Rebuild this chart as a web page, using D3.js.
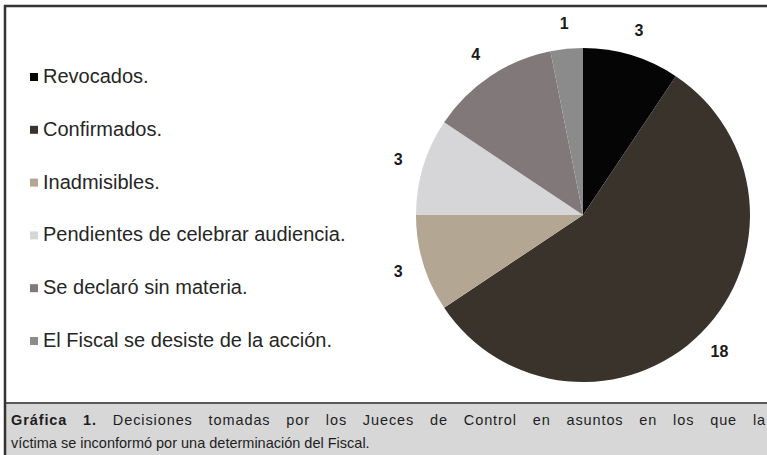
<!DOCTYPE html>
<html><head><meta charset="utf-8">
<script src="https://cdn.jsdelivr.net/npm/d3@7"></script>
<style>html,body{margin:0;padding:0;background:#fff;}svg{display:block;}</style>
</head><body>
<svg id="chart" width="767" height="455"></svg>
<script>
const categories = ["Revocados.", "Confirmados.", "Inadmisibles.", "Pendientes de celebrar audiencia.", "Se declaró sin materia.", "El Fiscal se desiste de la acción."];
const values = [3, 18, 3, 3, 4, 1];
const colors = ["#050505", "#3a332c", "#b3a692", "#d6d6d9", "#817979", "#8b8b8b"];
const captionBold = "Gráfica 1.";
const captionLine1 = "Decisiones tomadas por los Jueces de Control en asuntos en los que la";
const captionLine2 = "víctima se inconformó por una determinación del Fiscal.";

const svg = d3.select("#chart");
const W = 767, H = 455;
const font = "'Liberation Sans', Arial, sans-serif";

// caption band
svg.append("rect").attr("x", 5).attr("y", 403).attr("width", W).attr("height", H - 403).attr("fill", "#d7d7d7");
svg.append("line").attr("x1", 5).attr("x2", W).attr("y1", 403).attr("y2", 403).attr("stroke", "#5a5a5a").attr("stroke-width", 2);

// frame
svg.append("path").attr("d", `M5,${H} L5,6 L${W},6`).attr("fill", "none").attr("stroke", "#333").attr("stroke-width", 2.5);

// pie
const cx = 583, cy = 215, r = 167;
const pie = d3.pie().sort(null).value(d => d)(values);
const arc = d3.arc().innerRadius(0).outerRadius(r);
const labelArc = d3.arc().innerRadius(193).outerRadius(193);
const g = svg.append("g").attr("transform", `translate(${cx},${cy})`);
g.selectAll("path.slice").data(pie).enter().append("path")
  .attr("class", "slice").attr("d", arc).attr("fill", (d, i) => colors[i]);
g.selectAll("text.lbl").data(pie).enter().append("text")
  .attr("class", "lbl")
  .attr("transform", d => `translate(${labelArc.centroid(d)})`)
  .attr("text-anchor", "middle").attr("dy", "0.35em")
  .attr("font-family", font).attr("font-weight", "bold").attr("font-size", 16)
  .attr("fill", "#1a1a1a")
  .text(d => d.data);

// legend
const ly = d3.scalePoint().domain(categories).range([83, 347]);
const lg = svg.append("g");
categories.forEach((c, i) => {
  lg.append("rect").attr("x", 30).attr("y", ly(c) - 10).attr("width", 8).attr("height", 8).attr("fill", colors[i]);
  lg.append("text").attr("x", 43).attr("y", ly(c))
    .attr("font-family", font).attr("font-size", 20).attr("fill", "#262626").text(c);
});

// caption
const full1 = captionBold + " " + captionLine1;
const ls = 0.9;
const t1 = svg.append("text").attr("x", 11).attr("y", 425)
  .attr("font-family", font).attr("font-size", 14.5).attr("fill", "#1e1e1e")
  .attr("letter-spacing", ls);
t1.append("tspan").attr("font-weight", "bold").text(captionBold);
t1.append("tspan").text(" " + captionLine1);
const nat = t1.node().getBBox().width;
const nSpaces = full1.split(" ").length - 1;
t1.attr("word-spacing", Math.max(0, (766 - 11 - nat) / nSpaces));
svg.append("text").attr("x", 11).attr("y", 448)
  .attr("font-family", font).attr("font-size", 14.5).attr("fill", "#1e1e1e").text(captionLine2);
</script>
</body></html>
